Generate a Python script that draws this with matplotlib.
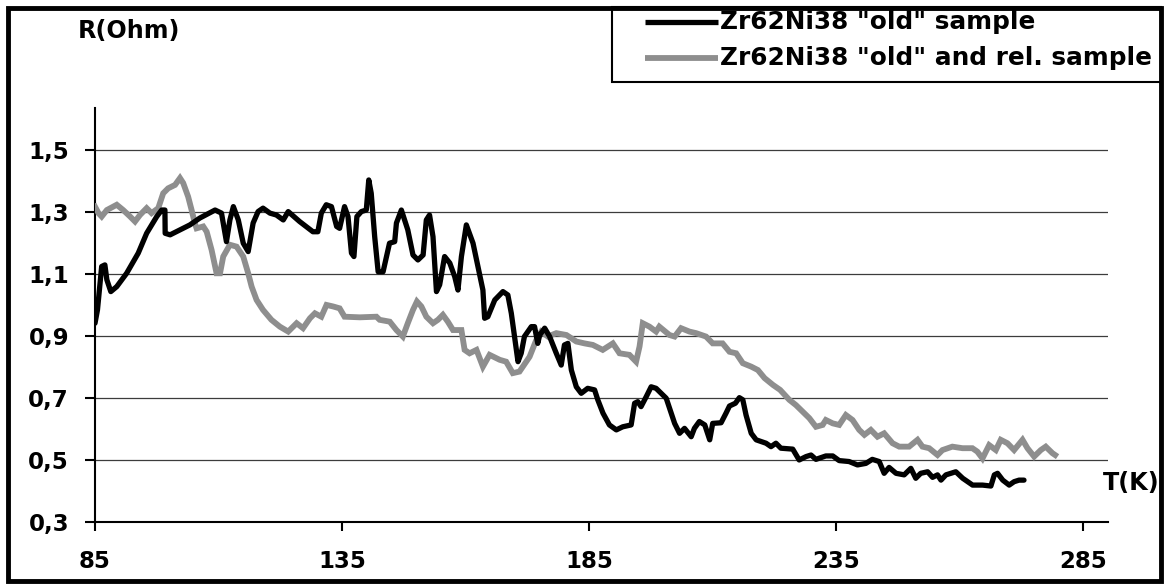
import matplotlib
matplotlib.use("Agg")
import matplotlib.pyplot as plt
from matplotlib.patches import Rectangle
from matplotlib.lines import Line2D

plt.rcParams['font.family'] = ['DejaVu Sans']
plt.rcParams['font.weight'] = 'bold'

# ---------------- data ----------------
series_names = ['Zr62Ni38 "old" sample', 'Zr62Ni38 "old" and rel. sample']

T_old = [85.0, 85.5, 86.35, 87.0, 87.4, 88.2, 89.4, 91.4, 93.75, 95.45, 97.5, 98.5, 99.15, 99.2,
         100.2, 104.2, 106.2, 109.3, 110.6, 111.6, 112.3, 113.0, 114.0, 115.0, 116.0, 117.0, 118.0,
         119.0, 120.4, 121.7, 123.1, 124.1, 126.4, 129.1, 130.1, 130.8, 131.8, 132.85, 133.9, 134.5,
         135.5, 136.2, 136.9, 137.4, 138.0, 138.9, 139.9, 140.4, 140.9, 141.6, 142.3, 143.3, 144.0,
         144.6, 145.65, 146.0, 147.0, 148.3, 149.35, 150.35, 151.4, 152.05, 152.7, 153.4, 154.1,
         154.75, 155.75, 156.8, 157.8, 158.45, 159.15, 160.15, 161.5, 162.5, 163.5, 163.85, 164.5,
         165.9, 167.55, 168.55, 169.25, 169.9, 170.6, 171.25, 171.9, 173.3, 173.95, 174.6, 175.0,
         176.0, 177.0, 178.35, 179.35, 180.0, 180.7, 181.4, 182.4, 183.4, 184.7, 186.1, 186.75,
         187.8, 189.1, 190.5, 191.8, 193.5, 194.2, 194.85, 195.5, 196.55, 197.55, 198.55, 199.9,
         200.6, 202.3, 203.3, 204.3, 205.65, 206.3, 207.3, 208.4, 209.4, 210.0, 211.7, 212.7, 213.4,
         214.6, 215.4, 216.1, 216.75, 217.8, 218.8, 220.8, 221.8, 222.8, 223.8, 226.2, 227.5, 228.9,
         229.9, 230.9, 232.9, 234.3, 235.6, 237.6, 239.3, 241.0, 242.3, 243.7, 244.7, 245.7, 247.1,
         248.75, 250.1, 251.1, 252.1, 253.5, 254.5, 255.5, 256.2, 257.2, 259.2, 260.6, 262.6, 264.6,
         266.3, 267.0, 267.65, 268.7, 270.0, 271.0, 272.0, 273.0]
R_old = [0.941, 0.984, 1.124, 1.129, 1.081, 1.043, 1.059, 1.102, 1.167, 1.231, 1.285, 1.306, 1.306, 1.231,
         1.226, 1.258, 1.280, 1.306, 1.296, 1.204, 1.274, 1.317, 1.274, 1.199, 1.172, 1.264, 1.301,
         1.312, 1.296, 1.290, 1.274, 1.301, 1.269, 1.236, 1.236, 1.296, 1.323, 1.317, 1.253, 1.247,
         1.317, 1.285, 1.167, 1.156, 1.285, 1.301, 1.306, 1.403, 1.360, 1.220, 1.107, 1.107, 1.156,
         1.199, 1.204, 1.264, 1.306, 1.242, 1.161, 1.145, 1.161, 1.274, 1.290, 1.220, 1.043,
         1.065, 1.156, 1.135, 1.091, 1.048, 1.156, 1.258, 1.199, 1.124, 1.048, 0.957, 0.962,
         1.016, 1.043, 1.032, 0.973, 0.898, 0.817, 0.844, 0.898, 0.930, 0.930, 0.876, 0.903,
         0.925, 0.898, 0.844, 0.806, 0.871, 0.876, 0.790, 0.736, 0.715, 0.731, 0.726, 0.694,
         0.651, 0.613, 0.597, 0.607, 0.613, 0.683, 0.688, 0.672, 0.704, 0.736, 0.731, 0.710,
         0.699, 0.618, 0.586, 0.602, 0.575, 0.602, 0.624, 0.613, 0.565, 0.618, 0.620, 0.651, 0.674,
         0.683, 0.701, 0.694, 0.645, 0.586, 0.565, 0.554, 0.543, 0.554, 0.538, 0.535, 0.500, 0.511,
         0.516, 0.502, 0.513, 0.513, 0.498, 0.495, 0.484, 0.489, 0.502, 0.495, 0.457, 0.476, 0.457,
         0.452, 0.473, 0.441, 0.457, 0.462, 0.444, 0.452, 0.435, 0.452, 0.462, 0.441, 0.419, 0.419,
         0.416, 0.452, 0.457, 0.435, 0.419, 0.430, 0.435, 0.435]

T_rel = [85.0, 85.7, 86.35, 87.4, 89.4, 90.7, 92.1, 93.1, 94.1, 95.45, 96.45, 97.8, 98.8, 99.8,
         101.2, 102.2, 102.85, 103.85, 104.55, 105.2, 105.55, 106.9, 107.6, 108.6, 109.6, 110.3,
         110.95, 112.3, 113.65, 115.0, 116.0, 116.7, 117.7, 119.0, 120.7, 122.4, 124.1, 125.8, 127.1,
         128.5, 129.5, 130.8, 131.85, 133.2, 134.5, 135.5, 138.6, 141.95, 142.6, 144.65, 146.0, 147.3,
         148.3, 149.35, 150.15, 151.05, 152.05, 153.4, 154.4, 155.4, 156.4, 157.45, 159.15, 159.8,
         160.8, 162.2, 163.5, 164.85, 166.9, 168.2, 169.55, 170.9, 172.95, 174.3, 175.3, 176.65,
         178.35, 180.4, 182.4, 184.05, 185.75, 187.75, 189.8, 191.15, 193.15, 194.5, 195.2, 195.85,
         197.2, 198.55, 199.2, 201.25, 202.3, 203.6, 205.3, 206.65, 208.65, 210.0, 212.0, 213.4,
         214.75, 216.1, 217.8, 219.15, 220.5, 222.2, 223.65, 225.5, 226.85, 228.2, 229.55, 230.9,
         232.25, 232.9, 234.3, 235.6, 236.95, 238.3, 239.65, 240.7, 242.0, 243.35, 244.7, 246.4,
         247.75, 249.75, 251.45, 252.45, 253.8, 255.5, 256.5, 258.5, 260.55, 262.55, 263.55, 264.6,
         265.95, 267.3, 268.3, 269.65, 271.0, 272.7, 273.7, 275.05, 276.4, 277.4, 278.75, 279.3]
R_rel = [1.317, 1.296, 1.285, 1.306, 1.323, 1.306, 1.285, 1.269, 1.290, 1.312, 1.296, 1.312, 1.360, 1.376,
         1.387, 1.409, 1.393, 1.349, 1.306, 1.264, 1.247, 1.253, 1.236, 1.177, 1.102, 1.102,
         1.156, 1.194, 1.188, 1.156, 1.102, 1.059, 1.016, 0.984, 0.952, 0.930, 0.914, 0.941, 0.925,
         0.957, 0.973, 0.962, 1.000, 0.995, 0.989, 0.962, 0.960, 0.962, 0.952, 0.946, 0.919, 0.898,
         0.941, 0.984, 1.011, 0.995, 0.962, 0.941, 0.952, 0.968, 0.946, 0.919, 0.919, 0.855,
         0.844, 0.855, 0.801, 0.839, 0.823, 0.817, 0.780, 0.785, 0.833, 0.887, 0.914, 0.898,
         0.909, 0.903, 0.882, 0.876, 0.871, 0.855, 0.876, 0.844, 0.839, 0.817, 0.866, 0.941,
         0.930, 0.914, 0.930, 0.903, 0.898, 0.925, 0.914, 0.909, 0.898, 0.876, 0.876, 0.849,
         0.844, 0.812, 0.801, 0.790, 0.764, 0.742, 0.726, 0.694, 0.677, 0.656, 0.635, 0.607,
         0.613, 0.629, 0.618, 0.613, 0.645, 0.629, 0.597, 0.581, 0.597, 0.575, 0.586, 0.554,
         0.543, 0.543, 0.565, 0.543, 0.538, 0.516, 0.532, 0.543, 0.538, 0.538, 0.527, 0.505,
         0.548, 0.532, 0.565, 0.554, 0.532, 0.565, 0.538, 0.511, 0.532, 0.543, 0.522, 0.516]

x_ticks = [85, 135, 185, 235, 285]
y_ticks = [0.3, 0.5, 0.7, 0.9, 1.1, 1.3, 1.5]
y_tick_labels = ['0,3', '0,5', '0,7', '0,9', '1,1', '1,3', '1,5']
y_label = 'R(Ohm)'
x_label = 'T(K)'

# ---------------- styling ----------------
W, H = 1166, 585
FS = 16.5
FS_AX = 17.2
FS_LEG = 17.8
black_style = dict(color='black', lw=3.8, solid_joinstyle='round', solid_capstyle='round')
gray_style = dict(color='#8e8e8e', lw=4.2, solid_joinstyle='miter')

fig = plt.figure(figsize=(W / 100, H / 100), dpi=100)
fig.patch.set_facecolor('white')

def fx(px):
    return px / W

def fy(py):
    return 1 - py / H

ax = fig.add_axes([fx(95), fy(522), fx(1108) - fx(95), fy(108) - fy(522)])
ax.set_xlim(85, 290)
ax.set_ylim(0.3, 1.635)

ax.plot(T_rel, R_rel, **gray_style, zorder=3)
ax.plot(T_old, R_old, **black_style, zorder=4)

ax.set_xticks(x_ticks)
ax.set_xticklabels([str(t) for t in x_ticks])
ax.set_yticks(y_ticks)
ax.set_yticklabels(y_tick_labels)
ax.yaxis.grid(True, color='#3c3c3c', lw=0.9)
ax.set_axisbelow(True)

for s in ['top', 'right']:
    ax.spines[s].set_visible(False)
for s in ['left', 'bottom']:
    ax.spines[s].set_linewidth(1.5)
    ax.spines[s].set_color('black')

ax.tick_params(axis='y', direction='out', length=7.2, width=1.5, pad=11.5,
               labelsize=FS, colors='black')
ax.tick_params(axis='x', direction='out', length=6.5, width=1.5, pad=14,
               labelsize=FS, colors='black')
for lab in ax.get_xticklabels() + ax.get_yticklabels():
    lab.set_fontweight('bold')

fig.text(fx(78), fy(31), y_label, ha='left', va='center', fontsize=FS_AX, fontweight='bold')
fig.text(fx(1103), fy(483), x_label, ha='left', va='center', fontsize=FS_AX, fontweight='bold')

# outer frame
fig.add_artist(Rectangle((fx(7.5), fy(581)), fx(1161) - fx(7.5), fy(7.5) - fy(581),
                         transform=fig.transFigure, fill=False, ec='black', lw=3.5, clip_on=False))

# legend box
fig.add_artist(Rectangle((fx(612), fy(82)), fx(1161) - fx(612), fy(7.5) - fy(82),
                         transform=fig.transFigure, fill=False, ec='black', lw=1.5, clip_on=False))
for yy, name, st in [(22, series_names[0], black_style), (58, series_names[1], gray_style)]:
    st2 = dict(st)
    st2['solid_capstyle'] = 'butt'
    fig.add_artist(Line2D([fx(645), fx(718)], [fy(yy), fy(yy)], transform=fig.transFigure, **st2))
    fig.text(fx(720), fy(yy), name, ha='left', va='center', fontsize=FS_LEG, fontweight='bold')

fig.savefig('out.png', dpi=100, facecolor='white')
